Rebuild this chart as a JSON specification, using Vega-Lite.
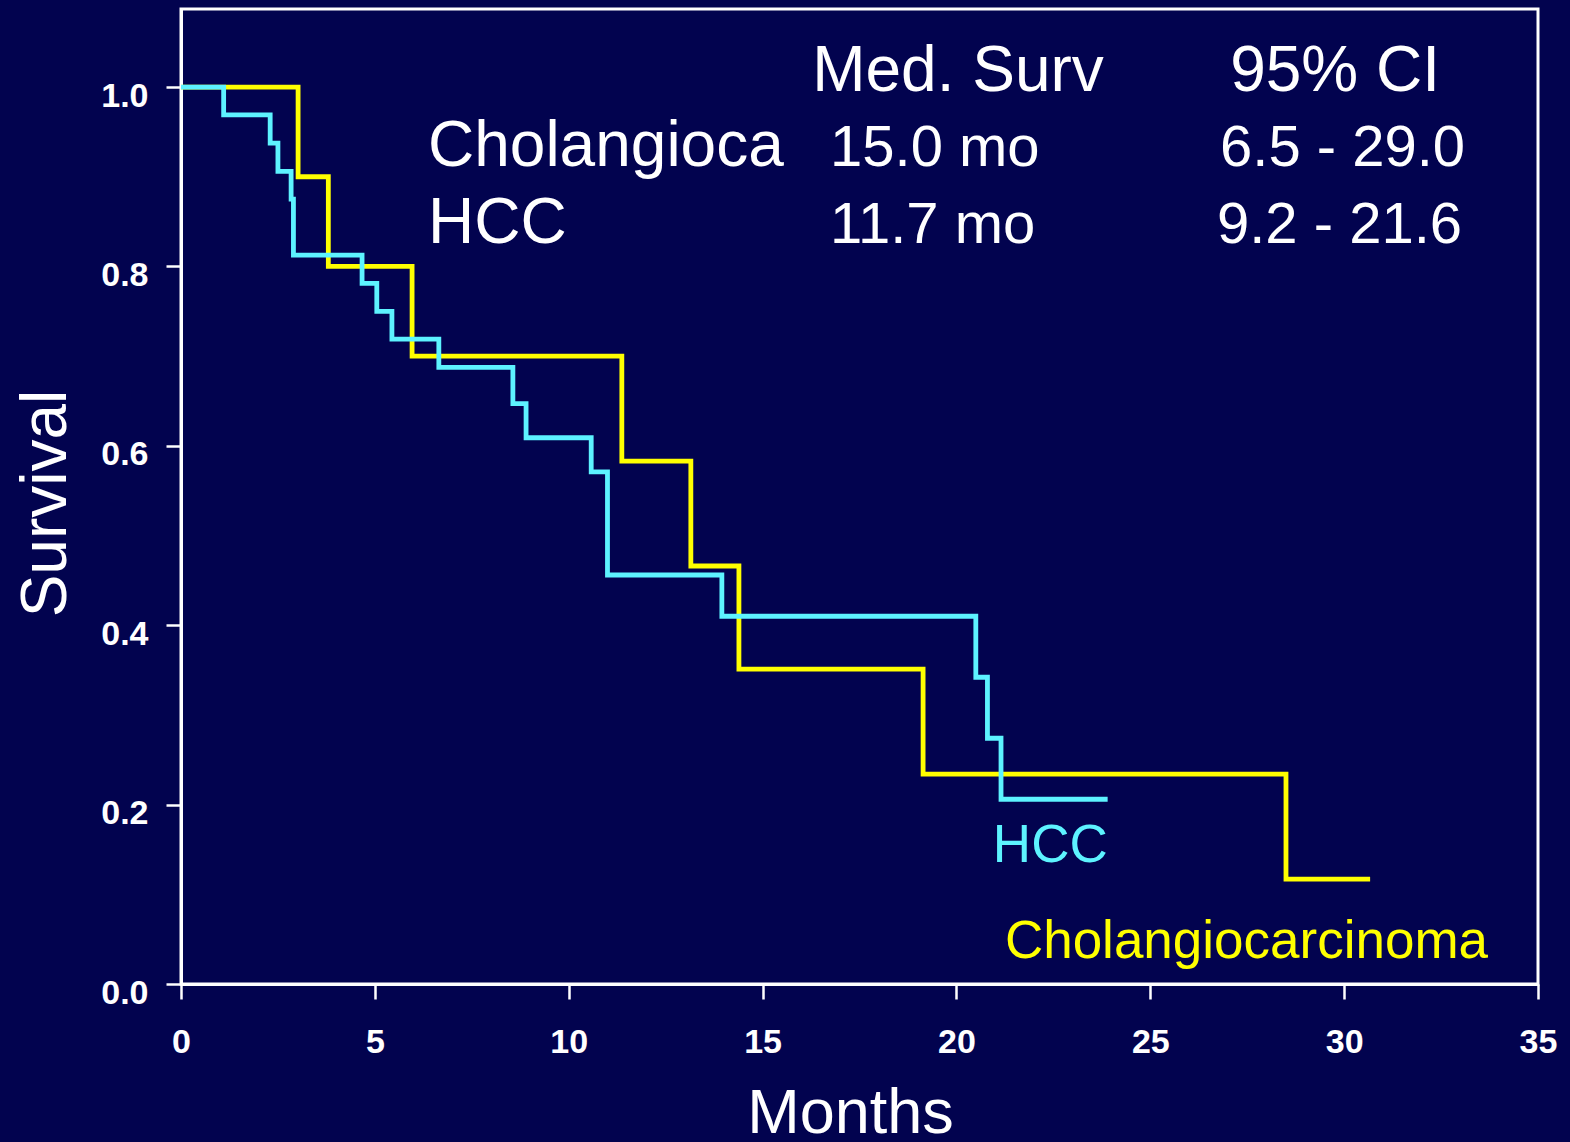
{
  "$schema": "https://vega.github.io/schema/vega-lite/v6.json",
  "width": 1357,
  "height": 975,
  "autosize": {"type": "none"},
  "padding": {"left": 181, "top": 9, "right": 32, "bottom": 158},
  "background": "#02034f",
  "config": {
    "view": {"stroke": "#ffffff", "strokeWidth": 3},
    "font": "Liberation Sans"
  },
  "datasets": {
    "curves": [
      {"group": "Cholangiocarcinoma", "month": 0, "survival": 1.0},
      {"group": "Cholangiocarcinoma", "month": 3.02, "survival": 0.9},
      {"group": "Cholangiocarcinoma", "month": 3.8, "survival": 0.8},
      {"group": "Cholangiocarcinoma", "month": 5.96, "survival": 0.7},
      {"group": "Cholangiocarcinoma", "month": 11.37, "survival": 0.583},
      {"group": "Cholangiocarcinoma", "month": 13.15, "survival": 0.466},
      {"group": "Cholangiocarcinoma", "month": 14.39, "survival": 0.351},
      {"group": "Cholangiocarcinoma", "month": 19.14, "survival": 0.234},
      {"group": "Cholangiocarcinoma", "month": 28.5, "survival": 0.117},
      {"group": "Cholangiocarcinoma", "month": 30.67, "survival": 0.117},
      {"group": "HCC", "month": 0, "survival": 1.0},
      {"group": "HCC", "month": 1.1, "survival": 0.969},
      {"group": "HCC", "month": 2.3, "survival": 0.9375},
      {"group": "HCC", "month": 2.5, "survival": 0.906},
      {"group": "HCC", "month": 2.84, "survival": 0.875},
      {"group": "HCC", "month": 2.9, "survival": 0.8125},
      {"group": "HCC", "month": 4.67, "survival": 0.781},
      {"group": "HCC", "month": 5.05, "survival": 0.75},
      {"group": "HCC", "month": 5.44, "survival": 0.719},
      {"group": "HCC", "month": 6.65, "survival": 0.6875},
      {"group": "HCC", "month": 8.56, "survival": 0.647},
      {"group": "HCC", "month": 8.9, "survival": 0.609},
      {"group": "HCC", "month": 10.58, "survival": 0.571},
      {"group": "HCC", "month": 11.0, "survival": 0.456},
      {"group": "HCC", "month": 13.95, "survival": 0.41},
      {"group": "HCC", "month": 20.5, "survival": 0.342},
      {"group": "HCC", "month": 20.8, "survival": 0.274},
      {"group": "HCC", "month": 21.15, "survival": 0.206},
      {"group": "HCC", "month": 23.9, "survival": 0.206}
    ],
    "table": [
      {"text": "Med. Surv", "kind": "label", "month": 16.28, "survival": 0.996},
      {"text": "95% CI", "kind": "label", "month": 27.06, "survival": 0.996},
      {"text": "Cholangioca", "kind": "label", "month": 6.37, "survival": 0.912},
      {"text": "HCC", "kind": "label", "month": 6.37, "survival": 0.826},
      {"text": "15.0 mo", "kind": "value", "month": 16.74, "survival": 0.912},
      {"text": "6.5 - 29.0", "kind": "value", "month": 26.8, "survival": 0.912},
      {"text": "11.7 mo", "kind": "value", "month": 16.74, "survival": 0.826},
      {"text": "9.2 - 21.6", "kind": "value", "month": 26.72, "survival": 0.826}
    ],
    "curveLabels": [
      {"text": "HCC", "group": "HCC", "month": 20.94, "survival": 0.136},
      {"text": "Cholangiocarcinoma", "group": "Cholangiocarcinoma", "month": 21.25, "survival": 0.029}
    ]
  },
  "encoding": {
    "x": {
      "field": "month",
      "type": "quantitative",
      "scale": {"domain": [0, 35], "nice": false, "zero": false},
      "axis": {
        "values": [0, 5, 10, 15, 20, 25, 30, 35],
        "format": "d",
        "title": "Months",
        "grid": false,
        "domainColor": "#ffffff",
        "domainWidth": 3,
        "tickColor": "#ffffff",
        "tickWidth": 2.5,
        "tickSize": 15,
        "labelColor": "#ffffff",
        "labelFont": "Liberation Sans",
        "labelFontSize": 34,
        "labelFontWeight": "bold",
        "labelPadding": 53,
        "labelBaseline": "alphabetic",
        "labelFlush": false,
        "labelOverlap": false,
        "labelBound": false,
        "titleColor": "#ffffff",
        "titleFont": "Liberation Sans",
        "titleFontSize": 63,
        "titleFontWeight": "normal",
        "titleX": 669,
        "titleY": 148,
        "titleBaseline": "alphabetic",
        "titleAlign": "center"
      }
    },
    "y": {
      "field": "survival",
      "type": "quantitative",
      "scale": {"domain": [0, 1.087], "nice": false, "zero": false},
      "axis": {
        "values": [0, 0.2, 0.4, 0.6, 0.8, 1.0],
        "format": ".1f",
        "title": "Survival",
        "grid": false,
        "domainColor": "#ffffff",
        "domainWidth": 3,
        "tickColor": "#ffffff",
        "tickWidth": 2.5,
        "tickSize": 15,
        "labelColor": "#ffffff",
        "labelFont": "Liberation Sans",
        "labelFontSize": 34,
        "labelFontWeight": "bold",
        "labelPadding": 18,
        "labelBaseline": "alphabetic",
        "labelOffset": 19,
        "labelFlush": false,
        "labelOverlap": false,
        "labelBound": false,
        "titleColor": "#ffffff",
        "titleFont": "Liberation Sans",
        "titleFontSize": 64,
        "titleFontWeight": "normal",
        "titleAngle": -90,
        "titleX": -116,
        "titleY": 494,
        "titleBaseline": "alphabetic",
        "titleAlign": "center"
      }
    }
  },
  "layer": [
    {
      "data": {"name": "curves"},
      "transform": [{"filter": "datum.group === 'Cholangiocarcinoma'"}],
      "mark": {"type": "line", "interpolate": "step-after", "strokeWidth": 4.8, "strokeJoin": "miter", "color": "#ffff00"}
    },
    {
      "data": {"name": "curves"},
      "transform": [{"filter": "datum.group === 'HCC'"}],
      "mark": {"type": "line", "interpolate": "step-after", "strokeWidth": 4.8, "strokeJoin": "miter", "color": "#5df3ff"}
    },
    {
      "data": {"name": "table"},
      "transform": [{"filter": "datum.kind === 'label'"}],
      "mark": {"type": "text", "align": "left", "baseline": "alphabetic", "font": "Liberation Sans", "fontSize": 64, "color": "#ffffff"},
      "encoding": {"text": {"field": "text"}}
    },
    {
      "data": {"name": "table"},
      "transform": [{"filter": "datum.kind === 'value'"}],
      "mark": {"type": "text", "align": "left", "baseline": "alphabetic", "font": "Liberation Sans", "fontSize": 58, "color": "#ffffff"},
      "encoding": {"text": {"field": "text"}}
    },
    {
      "data": {"name": "curveLabels"},
      "mark": {"type": "text", "align": "left", "baseline": "alphabetic", "font": "Liberation Sans", "fontSize": 53},
      "encoding": {
        "text": {"field": "text"},
        "color": {
          "field": "group",
          "type": "nominal",
          "scale": {"domain": ["HCC", "Cholangiocarcinoma"], "range": ["#5df3ff", "#ffff00"]},
          "legend": null
        }
      }
    }
  ]
}
